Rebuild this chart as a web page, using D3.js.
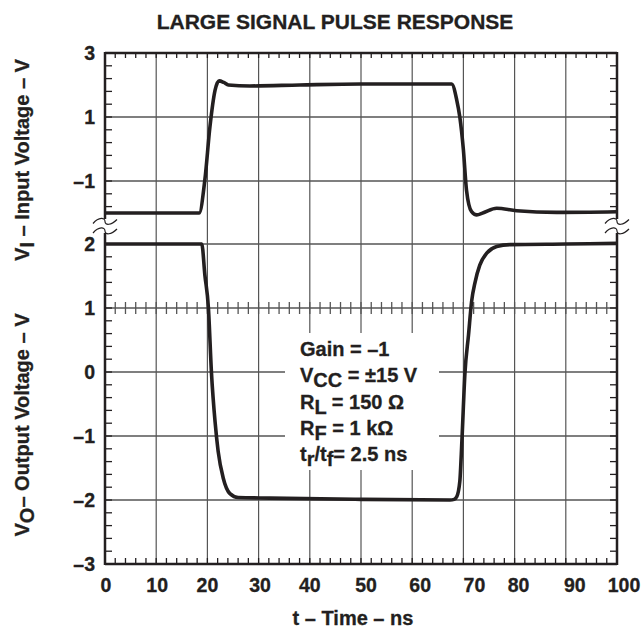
<!DOCTYPE html>
<html><head><meta charset="utf-8">
<script src="https://cdn.jsdelivr.net/npm/d3@7"></script>
<style>body{margin:0;background:#fff}</style>
</head><body>
<svg id="c" width="644" height="631"></svg>
<script>
// ---- data ----
const inputT = [0, 18.4, 19.5, 20.5, 21.5, 22.3, 23.2, 24.1, 28.3, 38, 50, 60, 67.7, 68.7, 69.3, 70, 70.6, 71.6, 72.6, 73.9, 76.5, 80.4, 88.2, 100];
const inputV = [-2.0, -2.0, -0.97, 0.7, 1.84, 2.13, 2.08, 2.0, 1.97, 2.0, 2.03, 2.03, 2.03, 1.53, 1.0, -0.03, -1.28, -1.96, -2.06, -1.99, -1.85, -1.93, -1.98, -1.96];
const outputT = [0, 18.9, 19.5, 20.2, 20.8, 21.5, 22.1, 23.1, 24.4, 26.0, 32.2, 50, 67.4, 68.2, 68.7, 69.3, 69.7, 70.3, 71.0, 71.6, 72.3, 73.2, 74.6, 76.5, 79.1, 90, 100];
const outputV = [2.0, 2.0, 1.52, 1.0, -0.02, -0.78, -1.24, -1.66, -1.9, -1.96, -1.97, -1.99, -2.0, -1.99, -1.95, -1.71, -1.09, -0.02, 0.58, 1.1, 1.41, 1.67, 1.86, 1.96, 1.99, 2.0, 2.01];
const xTicks = [0, 10, 20, 30, 40, 50, 60, 70, 80, 90, 100];
const inputTicks = [3, 1, -1];
const outputTicks = [2, 1, 0, -1, -2, -3];
const notes = [["Gain = –1"], ["V", "CC", " = ±15 V"], ["R", "L", " = 150 Ω"], ["R", "F", " = 1 kΩ"], ["t", "r", "/t", "f", "= 2.5 ns"]];
const title = "LARGE SIGNAL PULSE RESPONSE";

// layout-only nudges (px) of the x tick labels, as set in the original artwork
const xLabelNudge = [1, 1, 0, 1.5, 0, 5, 8, 11, 4, 9, 7];

// ---- layout ----
const svg = d3.select("#c");
const L = 105, R = 617, T = 53, B = 564;
const x = d3.scaleLinear().domain([0, 100]).range([L, R]);
const yIn = d3.scaleLinear().domain([-3, 3]).range([245, T]);
const yOut = d3.scaleLinear().domain([-3, 2]).range([B, 244]);
const ink = "#231f20", grid = "#555";
const font = "'Liberation Sans', Arial, Helvetica, sans-serif";

// grid
const g = svg.append("g");
xTicks.slice(1, -1).forEach(t => g.append("line").attr("x1", x(t)).attr("x2", x(t)).attr("y1", T).attr("y2", B).attr("stroke", grid).attr("stroke-width", 1.2));
[1, -1].forEach(v => g.append("line").attr("x1", L).attr("x2", R).attr("y1", yIn(v)).attr("y2", yIn(v)).attr("stroke", grid).attr("stroke-width", 1.4));
[2, 1, 0, -1, -2].forEach(v => g.append("line").attr("x1", L).attr("x2", R).attr("y1", yOut(v)).attr("y2", yOut(v)).attr("stroke", grid).attr("stroke-width", 1.4));

// midline ticks
d3.range(2, 100, 2).forEach(t => g.append("line").attr("x1", x(t)).attr("x2", x(t)).attr("y1", yOut(1) - 6).attr("y2", yOut(1) + 6).attr("stroke", grid).attr("stroke-width", 1.3));

// top/bottom ticks
d3.range(2, 100, 2).forEach(t => {
  g.append("line").attr("x1", x(t)).attr("x2", x(t)).attr("y1", T).attr("y2", T + 5).attr("stroke", ink).attr("stroke-width", 1.3);
  g.append("line").attr("x1", x(t)).attr("x2", x(t)).attr("y1", B).attr("y2", B - 6).attr("stroke", ink).attr("stroke-width", 1.3);
});
// left/right ticks
const yTickPos = [];
d3.range(3, -1.9, -0.4).forEach(v => yTickPos.push(yIn(v)));
d3.range(2, -3.01, -0.2).forEach(v => yTickPos.push(yOut(v)));
yTickPos.forEach(p => {
  g.append("line").attr("x1", L).attr("x2", L + 7).attr("y1", p).attr("y2", p).attr("stroke", ink).attr("stroke-width", 1.3);
  g.append("line").attr("x1", R).attr("x2", R - 7).attr("y1", p).attr("y2", p).attr("stroke", ink).attr("stroke-width", 1.3);
});

// annotation background
g.append("rect").attr("x", 285).attr("y", 333).attr("width", 154).attr("height", 137).attr("fill", "#fff");

// frame
const f = svg.append("g").attr("stroke", ink).attr("stroke-width", 2.5).attr("fill", "none");
f.append("line").attr("x1", L).attr("x2", R).attr("y1", T).attr("y2", T);
f.append("line").attr("x1", L).attr("x2", R).attr("y1", B).attr("y2", B);
f.append("line").attr("x1", L).attr("x2", L).attr("y1", T - 1).attr("y2", 219);
f.append("line").attr("x1", L).attr("x2", L).attr("y1", 233).attr("y2", B + 1);
f.append("line").attr("x1", R).attr("x2", R).attr("y1", T - 1).attr("y2", 219);
f.append("line").attr("x1", R).attr("x2", R).attr("y1", 233).attr("y2", B + 1);

// break marks
[L, R].forEach(cx => [221.5, 231].forEach(cy => {
  svg.append("path").attr("d", `M${cx - 12},${cy + 2} C${cx - 6},${cy - 5} ${cx},${cy - 4} ${cx},${cy} S${cx + 6},${cy + 4} ${cx + 12},${cy - 2}`)
    .attr("fill", "none").attr("stroke", ink).attr("stroke-width", 1.2);
}));

// curves
const lineIn = d3.line().x((d, i) => x(inputT[i])).y(d => yIn(d)).curve(d3.curveMonotoneX);
const lineOut = d3.line().x((d, i) => x(outputT[i])).y(d => yOut(d)).curve(d3.curveMonotoneX);
svg.append("path").attr("d", lineIn(inputV)).attr("fill", "none").attr("stroke", ink).attr("stroke-width", 3.6).attr("stroke-linejoin", "round");
svg.append("path").attr("d", lineOut(outputV)).attr("fill", "none").attr("stroke", ink).attr("stroke-width", 3.6).attr("stroke-linejoin", "round");

// text
const txt = svg.append("g").attr("font-family", font).attr("font-weight", "bold").attr("fill", ink)
  .attr("stroke", ink).attr("stroke-width", 0.3);
txt.append("text").attr("x", 335).attr("y", 29).attr("text-anchor", "middle").attr("font-size", 21).text(title);
xTicks.forEach((t, i) => txt.append("text").attr("x", x(t) + xLabelNudge[i]).attr("y", 592).attr("text-anchor", "middle").attr("font-size", 19.5).text(t));
const fmt = v => v < 0 ? "–" + Math.abs(v) : String(v);
inputTicks.forEach(v => txt.append("text").attr("x", 95).attr("y", yIn(v) + 7).attr("text-anchor", "end").attr("font-size", 19.5).text(fmt(v)));
outputTicks.forEach(v => txt.append("text").attr("x", 95).attr("y", yOut(v) + 7).attr("text-anchor", "end").attr("font-size", 19.5).text(fmt(v)));
txt.append("text").attr("x", 353).attr("y", 625).attr("text-anchor", "middle").attr("font-size", 20).text("t – Time – ns");

function yLabel(cy, main, sub, rest) {
  const t = txt.append("text").attr("transform", `translate(29,${cy}) rotate(-90)`).attr("text-anchor", "middle").attr("font-size", 20);
  t.append("tspan").text(main);
  t.append("tspan").attr("dy", 5).text(sub);
  t.append("tspan").attr("dy", -5).text(rest);
}
yLabel(160, "V", "I", " – Input Voltage – V");
yLabel(425, "V", "O", "– Output Voltage – V");

notes.forEach((parts, i) => {
  const t = txt.append("text").attr("x", 300).attr("y", 356 + i * 26.3).attr("font-size", 20);
  parts.forEach((p, j) => {
    const ts = t.append("tspan").text(p);
    if (j % 2 === 1) ts.attr("dy", 5);
    else if (j > 0) ts.attr("dy", -5);
  });
});
</script>
</body></html>
